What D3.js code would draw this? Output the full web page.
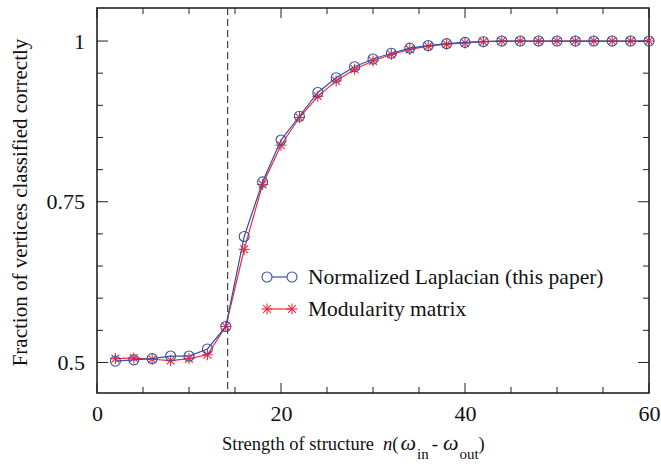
<!DOCTYPE html>
<html>
<head>
<meta charset="utf-8">
<script src="https://cdn.jsdelivr.net/npm/d3@7"></script>
<style>
  body { margin: 0; background: #fff; }
  svg text { font-family: "Liberation Serif", serif; fill: #111; }
</style>
</head>
<body>
<div id="chart-area"></div>
<script>
// data
const strength = [2, 4, 6, 8, 10, 12, 14, 16, 18, 20, 22, 24, 26, 28, 30, 32, 34, 36, 38, 40, 42, 44, 46, 48, 50, 52, 54, 56, 58, 60];
const laplacian = [0.502, 0.504, 0.506, 0.510, 0.510, 0.521, 0.556, 0.696, 0.781, 0.846, 0.883, 0.920, 0.943, 0.960, 0.972, 0.981, 0.989, 0.993, 0.996, 0.998, 0.999, 1, 1, 1, 1, 1, 1, 1, 1, 1];
const modularity = [0.506, 0.507, 0.505, 0.503, 0.506, 0.512, 0.556, 0.676, 0.777, 0.838, 0.881, 0.914, 0.938, 0.956, 0.969, 0.979, 0.987, 0.992, 0.995, 0.997, 0.999, 1, 1, 1, 1, 1, 1, 1, 1, 1];
const threshold = 14.2;
const xTicks = [0, 20, 40, 60];
const yTicks = [0.5, 0.75, 1];
const legendLabels = ["Normalized Laplacian (this paper)", "Modularity matrix"];

const blue = "#3a4fa3", red = "#f0283c";

const canvas = { width: 661, height: 468 };
const margin = { left: 97, right: 12, top: 8, bottom: 75 };
const graph = { width: canvas.width - margin.left - margin.right, height: canvas.height - margin.top - margin.bottom };

const svg = d3.select("#chart-area").append("svg").attr("width", canvas.width).attr("height", canvas.height);
const g = svg.append("g").attr("transform", "translate(" + margin.left + "," + margin.top + ")");

// scales
const x = d3.scaleLinear().domain([0, 60]).range([0, graph.width]);
const y = d3.scaleLinear().domain([0.4525, 1.0514]).range([graph.height, 0]);

// frame ticks: major + minor on all four sides
const axisColor = "#222";
function tickLines(sel, vals, len, side) {
  vals.forEach(v => {
    let l;
    if (side === "bottom") l = [x(v), graph.height, x(v), graph.height - len];
    if (side === "top") l = [x(v), 0, x(v), len];
    if (side === "left") l = [0, y(v), len, y(v)];
    if (side === "right") l = [graph.width, y(v), graph.width - len, y(v)];
    sel.append("line").attr("x1", l[0]).attr("y1", l[1]).attr("x2", l[2]).attr("y2", l[3])
      .attr("stroke", axisColor).attr("stroke-width", 1);
  });
}
const xMinor = d3.range(5, 60, 5).filter(v => !xTicks.includes(v));
const yMinor = d3.range(0.55, 1.0, 0.05).filter(v => !yTicks.some(t => Math.abs(t - v) < 1e-6));
const ticks = g.append("g");
tickLines(ticks, xTicks, 10, "bottom"); tickLines(ticks, xMinor, 6, "bottom");
tickLines(ticks, xTicks, 10, "top"); tickLines(ticks, xMinor, 6, "top");
tickLines(ticks, yTicks, 11, "left"); tickLines(ticks, yMinor, 6, "left");
tickLines(ticks, yTicks, 11, "right"); tickLines(ticks, yMinor, 6, "right");

g.append("rect").attr("width", graph.width).attr("height", graph.height)
  .attr("fill", "none").attr("stroke", axisColor).attr("stroke-width", 1.6);

// tick labels via axes (lines hidden)
const xAxis = g.append("g").attr("transform", "translate(0," + graph.height + ")")
  .call(d3.axisBottom(x).tickValues(xTicks).tickSize(0).tickPadding(12).tickFormat(d3.format("d")));
const yAxis = g.append("g")
  .call(d3.axisLeft(y).tickValues(yTicks).tickSize(0).tickPadding(12).tickFormat(d => d));
[xAxis, yAxis].forEach(a => {
  a.attr("font-size", 22);
  a.select(".domain").remove();
  a.selectAll("text").attr("fill", "#111");
});

// threshold
g.append("line").attr("x1", x(threshold)).attr("x2", x(threshold)).attr("y1", 0).attr("y2", graph.height)
  .attr("stroke", "#444").attr("stroke-width", 1.2).attr("stroke-dasharray", "7,4");

// series
const line = d3.line().x(d => x(d[0])).y(d => y(d[1]));
const modPts = strength.map((s, i) => [s, modularity[i]]);
const lapPts = strength.map((s, i) => [s, laplacian[i]]);

function star(sel, cx, cy, r) {
  const gg = sel.append("g").attr("transform", "translate(" + cx + "," + cy + ")")
    .attr("stroke", red).attr("stroke-width", 1.1);
  [0, 45, 90, 135].forEach(a => {
    const dx = r * Math.cos(a * Math.PI / 180), dy = r * Math.sin(a * Math.PI / 180);
    gg.append("line").attr("x1", -dx).attr("y1", -dy).attr("x2", dx).attr("y2", dy);
  });
}

g.append("path").datum(modPts).attr("d", line).attr("fill", "none").attr("stroke", red).attr("stroke-width", 1.2);
const starG = g.append("g");
modPts.forEach(d => star(starG, x(d[0]), y(d[1]), 5.5));

g.append("path").datum(lapPts).attr("d", line).attr("fill", "none").attr("stroke", blue).attr("stroke-width", 1.2);
g.append("g").selectAll("circle").data(lapPts).enter().append("circle")
  .attr("cx", d => x(d[0])).attr("cy", d => y(d[1])).attr("r", 5)
  .attr("fill", "none").attr("stroke", blue).attr("stroke-width", 1.1);

// legend
const legend = svg.append("g").attr("transform", "translate(267,277)");
legend.append("line").attr("x1", 0).attr("x2", 25).attr("y1", 0).attr("y2", 0).attr("stroke", blue).attr("stroke-width", 1.2);
[0, 25].forEach(cx => legend.append("circle").attr("cx", cx).attr("cy", 0).attr("r", 5)
  .attr("fill", "#fff").attr("stroke", blue).attr("stroke-width", 1.1));
legend.append("line").attr("x1", 0).attr("x2", 25).attr("y1", 32).attr("y2", 32).attr("stroke", red).attr("stroke-width", 1.2);
[0, 25].forEach(cx => star(legend, cx, 32, 5.5));
legendLabels.forEach((t, i) => legend.append("text").attr("x", 41).attr("y", i * 32 + 7)
  .attr("font-size", 21.5).text(t));

// axis labels
const xLabel = svg.append("text").attr("x", 222).attr("y", 450).attr("font-size", 18.5);
xLabel.append("tspan").text("Strength of structure");
xLabel.append("tspan").attr("dx", 9).attr("font-style", "italic").text("n");
xLabel.append("tspan").text("(");
xLabel.append("tspan").attr("dx", 2).attr("font-style", "italic").attr("font-size", 22).text("ω");
xLabel.append("tspan").attr("font-size", 15).attr("dy", 9).attr("dx", 1).text("in");
xLabel.append("tspan").attr("dy", -9).attr("dx", 3).text("-");
xLabel.append("tspan").attr("dx", 5).attr("font-style", "italic").attr("font-size", 22).text("ω");
xLabel.append("tspan").attr("font-size", 15).attr("dy", 9).attr("dx", 1).text("out");
xLabel.append("tspan").attr("dy", -9).text(")");

svg.append("text").attr("transform", "translate(27," + (margin.top + graph.height / 2 + 2) + ") rotate(-90)")
  .attr("text-anchor", "middle").attr("font-size", 21).text("Fraction of vertices classified correctly");
</script>
</body>
</html>
